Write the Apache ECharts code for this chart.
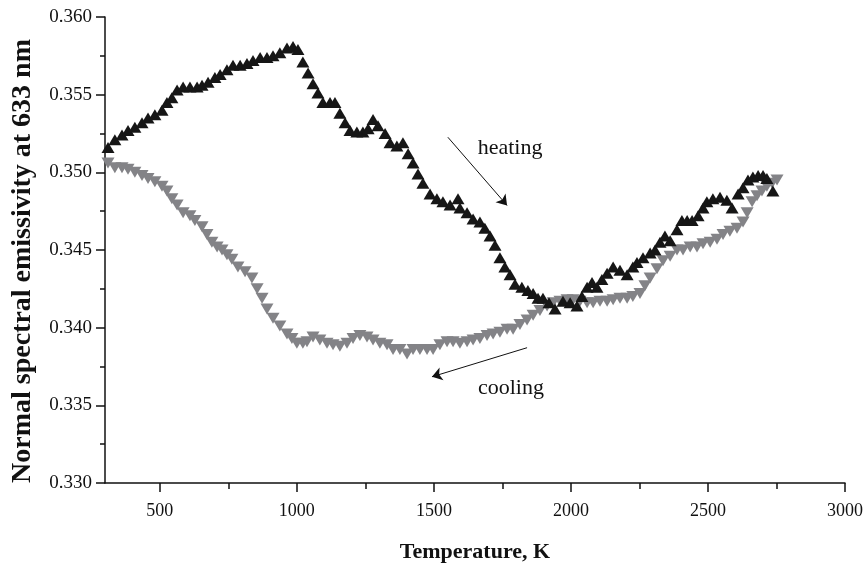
<!DOCTYPE html>
<html>
<head>
<meta charset="utf-8">
<script src="https://cdn.jsdelivr.net/npm/echarts@6/dist/echarts.min.js"></script>
<style>html,body{margin:0;padding:0;background:#fff}#c{width:863px;height:563px}</style>
</head>
<body>
<div id="c"></div>
<script>
const heatingT = [311,336,362,384,409,435,457,482,508,526,544,563,585,610,636,654,676,701,720,745,767,793,818,840,866,891,913,938,964,986,1004,1022,1041,1059,1077,1095,1121,1139,1157,1176,1194,1219,1241,1260,1278,1296,1322,1340,1365,1387,1406,1424,1442,1460,1486,1511,1533,1559,1588,1595,1621,1643,1668,1686,1705,1723,1741,1759,1778,1796,1821,1843,1862,1880,1898,1920,1942,1971,1997,2022,2040,2059,2077,2095,2113,2132,2154,2179,2205,2226,2241,2263,2289,2307,2325,2343,2362,2387,2405,2424,2442,2464,2482,2496,2518,2544,2569,2588,2610,2628,2646,2664,2683,2701,2715,2737];
const heatingE = [0.3516,0.3521,0.3524,0.3527,0.3529,0.3532,0.3535,0.3537,0.3540,0.3545,0.3548,0.3553,0.3555,0.3555,0.3555,0.3556,0.3558,0.3561,0.3563,0.3566,0.3569,0.3569,0.3570,0.3572,0.3574,0.3574,0.3575,0.3577,0.3580,0.3581,0.3579,0.3571,0.3564,0.3557,0.3551,0.3545,0.3545,0.3545,0.3538,0.3532,0.3527,0.3526,0.3526,0.3528,0.3534,0.3530,0.3525,0.3519,0.3517,0.3519,0.3512,0.3506,0.3499,0.3493,0.3486,0.3483,0.3481,0.3479,0.3483,0.3477,0.3474,0.3470,0.3468,0.3464,0.3459,0.3453,0.3445,0.3439,0.3434,0.3428,0.3426,0.3424,0.3422,0.3419,0.3419,0.3416,0.3412,0.3417,0.3416,0.3414,0.3420,0.3426,0.3429,0.3426,0.3431,0.3435,0.3439,0.3437,0.3434,0.3439,0.3442,0.3445,0.3448,0.3450,0.3455,0.3459,0.3456,0.3463,0.3469,0.3469,0.3469,0.3472,0.3477,0.3481,0.3483,0.3484,0.3482,0.3477,0.3486,0.3490,0.3495,0.3497,0.3498,0.3498,0.3496,0.3488];
const coolingT = [311,336,362,384,409,435,457,482,508,526,544,563,585,610,628,654,672,690,709,727,745,763,785,811,836,855,873,891,913,938,964,982,1000,1022,1037,1059,1084,1110,1132,1157,1183,1205,1230,1256,1278,1303,1329,1351,1376,1402,1424,1449,1475,1497,1522,1548,1570,1595,1621,1643,1668,1694,1716,1741,1767,1789,1814,1840,1862,1887,1913,1935,1960,1986,2008,2033,2059,2081,2106,2132,2154,2179,2205,2226,2252,2270,2289,2314,2336,2362,2387,2409,2435,2460,2482,2508,2533,2555,2580,2606,2628,2643,2661,2679,2697,2715,2734,2752];
const coolingE = [0.3506,0.3503,0.3503,0.3502,0.3500,0.3498,0.3496,0.3494,0.3491,0.3488,0.3483,0.3479,0.3474,0.3472,0.3469,0.3465,0.3460,0.3455,0.3452,0.3450,0.3447,0.3444,0.3439,0.3436,0.3432,0.3425,0.3419,0.3412,0.3406,0.3401,0.3396,0.3393,0.3390,0.3390,0.3391,0.3394,0.3392,0.3390,0.3389,0.3388,0.3390,0.3393,0.3395,0.3394,0.3392,0.3390,0.3389,0.3386,0.3386,0.3383,0.3386,0.3386,0.3386,0.3386,0.3389,0.3391,0.3391,0.3390,0.3391,0.3392,0.3393,0.3395,0.3396,0.3397,0.3399,0.3399,0.3402,0.3405,0.3408,0.3411,0.3414,0.3416,0.3417,0.3418,0.3418,0.3417,0.3416,0.3416,0.3417,0.3417,0.3418,0.3419,0.3419,0.3420,0.3422,0.3427,0.3432,0.3438,0.3443,0.3446,0.3450,0.3450,0.3452,0.3452,0.3454,0.3455,0.3457,0.3460,0.3462,0.3464,0.3468,0.3474,0.3481,0.3485,0.3488,0.3491,0.3493,0.3495];
const xMajorTicks = [500,1000,1500,2000,2500,3000];
const xMinorTicks = [750,1250,1750,2250,2750];
const heatingArrow = [[1551,0.35226],[1767,0.34787]];
const coolingArrow = [[1840,0.33871],[1493,0.33684]];
const heatingLabel = [1778,0.35155];
const coolingLabel = [1781,0.33613];

const FONT = "'Liberation Serif','Times New Roman',serif";
const zip = (a,b) => a.map((v,i)=>[v,b[i]]);

const chart = echarts.init(document.getElementById('c'), null, {renderer:'canvas'});
chart.setOption({
  animation:false,
  backgroundColor:'#fff',
  grid:{left:105,right:18,top:17,bottom:80,containLabel:false,outerBoundsMode:'none'},
  xAxis:[{
    type:'value',min:300,max:3000,
    name:'Temperature, K',nameLocation:'middle',nameGap:58,
    nameTextStyle:{fontFamily:FONT,fontWeight:'bold',fontSize:22,color:'#111'},
    axisLine:{show:true,onZero:false,lineStyle:{color:'#111',width:1.5}},
    axisTick:{show:true,inside:false,length:9,customValues:xMajorTicks,lineStyle:{color:'#111',width:1.5}},
    axisLabel:{show:true,customValues:xMajorTicks,margin:19,fontFamily:FONT,fontSize:18,color:'#111',formatter:v=>String(v)},
    splitLine:{show:false}
  },{
    type:'value',min:300,max:3000,position:'bottom',
    axisLine:{show:false},
    axisTick:{show:true,inside:false,length:6,customValues:xMinorTicks,lineStyle:{color:'#111',width:1.5}},
    axisLabel:{show:false},
    splitLine:{show:false}
  }],
  yAxis:{
    type:'value',min:0.33,max:0.36,interval:0.005,
    name:'Normal spectral emissivity at 633 nm',nameLocation:'middle',nameGap:68,
    nameTextStyle:{fontFamily:FONT,fontWeight:'bold',fontSize:28,color:'#111',padding:[0,22,0,0]},
    axisLine:{show:true,onZero:false,lineStyle:{color:'#111',width:1.5}},
    axisTick:{show:true,inside:false,length:9,lineStyle:{color:'#111',width:1.5}},
    minorTick:{show:true,splitNumber:2,length:5,lineStyle:{color:'#111',width:1.5}},
    axisLabel:{margin:13,fontFamily:FONT,fontSize:19,color:'#111',formatter:v=>v.toFixed(3)},
    splitLine:{show:false}
  },
  series:[{
    name:'cooling',type:'scatter',
    data:zip(coolingT,coolingE),
    symbol:'triangle',symbolRotate:180,symbolSize:[13,11],
    itemStyle:{color:'#838387',opacity:1},
    markLine:{silent:true,symbol:['none','arrow'],symbolSize:10,
      lineStyle:{color:'#111',width:1,type:'solid'},label:{show:false},
      data:[[{coord:coolingArrow[0]},{coord:coolingArrow[1]}]]},
    markPoint:{silent:true,symbol:'circle',symbolSize:0,
      label:{show:true,formatter:'cooling',fontFamily:FONT,fontSize:22,color:'#111',position:'inside'},
      data:[{coord:coolingLabel}]}
  },{
    name:'heating',type:'scatter',
    data:zip(heatingT,heatingE),
    symbol:'triangle',symbolSize:[13,11],
    itemStyle:{color:'#161616',opacity:1},
    markLine:{silent:true,symbol:['none','arrow'],symbolSize:10,
      lineStyle:{color:'#111',width:1,type:'solid'},label:{show:false},
      data:[[{coord:heatingArrow[0]},{coord:heatingArrow[1]}]]},
    markPoint:{silent:true,symbol:'circle',symbolSize:0,
      label:{show:true,formatter:'heating',fontFamily:FONT,fontSize:22,color:'#111',position:'inside'},
      data:[{coord:heatingLabel}]}
  }]
});
</script>
</body>
</html>
